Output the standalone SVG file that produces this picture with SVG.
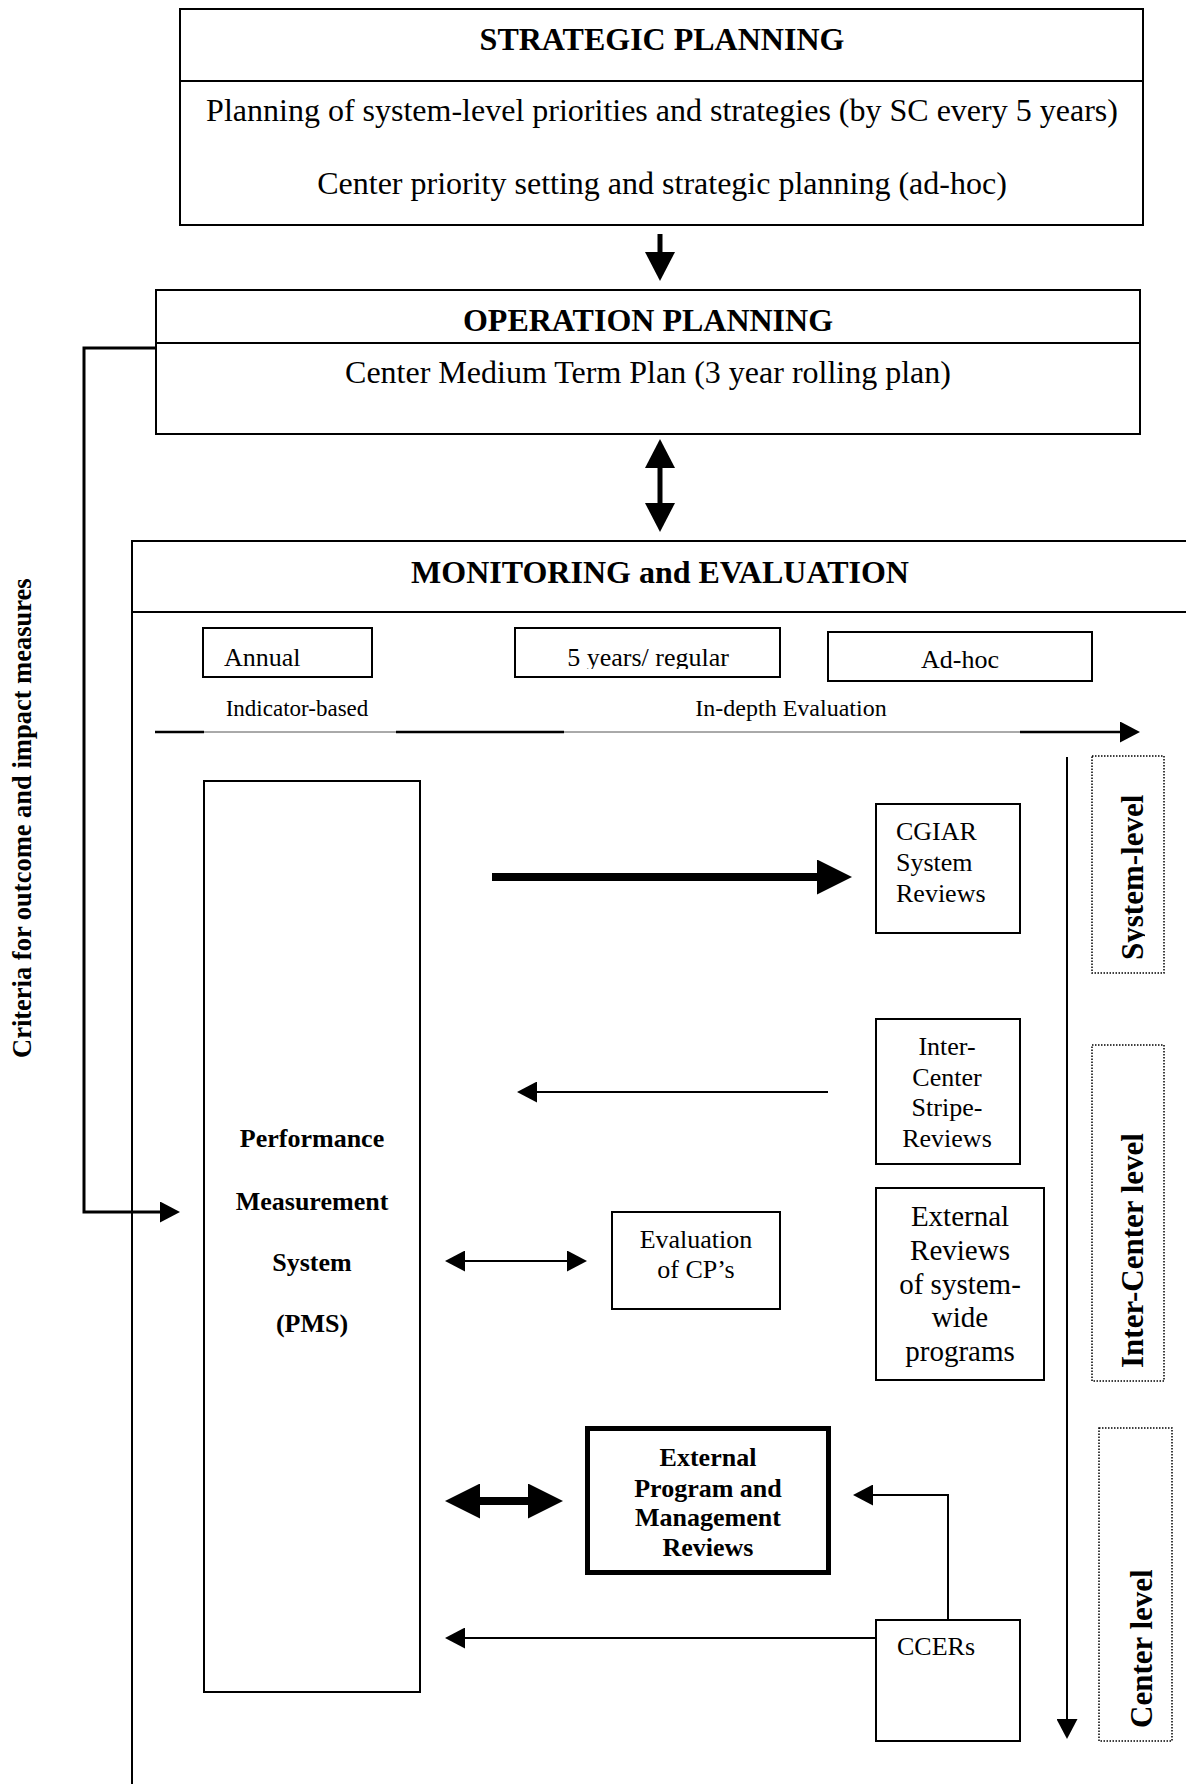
<svg xmlns="http://www.w3.org/2000/svg" width="1186" height="1784" viewBox="0 0 1186 1784">
<style>
  text { font-family: "Liberation Serif", "Times New Roman", serif; fill: #000; }
  .b { font-weight: bold; }
  .c { text-anchor: middle; }
  .box { fill: #fff; stroke: #000; stroke-width: 2; }
  .thick { fill: #fff; stroke: #000; stroke-width: 5; }
  .dot { fill: none; stroke: #000; stroke-width: 1.5; stroke-dasharray: 1.5 1.5; }
  .ln { fill: none; stroke: #000; stroke-width: 2; }
  .f32 { font-size: 32px; }
  .f26 { font-size: 26px; }
  .f29 { font-size: 29px; }
  .f31 { font-size: 31px; }
</style>
<defs>
  <marker id="thin" markerUnits="userSpaceOnUse" viewBox="0 0 20 21" markerWidth="20" markerHeight="21" refX="1" refY="10.5" orient="auto-start-reverse">
    <path d="M0,0 L20,10.5 L0,21 z" fill="#000"/>
  </marker>
  <marker id="mid" markerUnits="userSpaceOnUse" viewBox="0 0 29 30" markerWidth="29" markerHeight="30" refX="1" refY="15" orient="auto-start-reverse">
    <path d="M0,0 L29,15 L0,30 z" fill="#000"/>
  </marker>
  <marker id="big" markerUnits="userSpaceOnUse" viewBox="0 0 35 35" markerWidth="35" markerHeight="35" refX="1" refY="17.5" orient="auto-start-reverse">
    <path d="M0,0 L35,17.5 L0,35 z" fill="#000"/>
  </marker>
  <clipPath id="clip5y"><rect x="515" y="628" width="265" height="41"/></clipPath>
  <clipPath id="clipSys"><rect x="1092" y="756" width="53" height="217"/></clipPath>
</defs>

<rect width="1186" height="1784" fill="#fff"/>

<g id="strategic-planning">
  <rect class="box" x="180" y="9" width="963" height="216"/>
  <line class="ln" x1="180" y1="81" x2="1143" y2="81"/>
  <text class="b c f32" x="662" y="50">STRATEGIC PLANNING</text>
  <text class="c f32" x="662" y="121">Planning of system-level priorities and strategies (by SC every 5 years)</text>
  <text class="c f32" x="662" y="194">Center priority setting and strategic planning (ad-hoc)</text>
</g>

<g id="operation-planning">
  <rect class="box" x="156" y="290" width="984" height="144"/>
  <line class="ln" x1="156" y1="343" x2="1140" y2="343"/>
  <text class="b c f32" x="648" y="331">OPERATION PLANNING</text>
  <text class="c f32" x="648" y="383">Center Medium Term Plan (3 year rolling plan)</text>
</g>

<g id="monitoring-evaluation">
  <path class="ln" d="M1186,541 H132 V1784 M132,612 H1186"/>
  <text class="b c f32" x="660" y="583">MONITORING and EVALUATION</text>
</g>

<g id="annual">
  <rect class="box" x="203" y="628" width="169" height="49"/>
  <text class="f26" x="224" y="666">Annual</text>
</g>
<g id="five-years">
  <rect class="box" x="515" y="628" width="265" height="49"/>
  <text class="c f26" x="648" y="666" clip-path="url(#clip5y)">5 years/ regular</text>
</g>
<g id="ad-hoc">
  <rect class="box" x="828" y="632" width="264" height="49"/>
  <text class="c f26" x="960" y="668">Ad-hoc</text>
</g>
<g id="timeline-labels">
  <text class="c" style="font-size:23px" x="297" y="716">Indicator-based</text>
  <text class="c" style="font-size:24px" x="791" y="716">In-depth Evaluation</text>
</g>

<g id="pms">
  <rect class="box" x="204" y="781" width="216" height="911"/>
  <text class="b c f26" x="312" y="1147">Performance</text>
  <text class="b c f26" x="312" y="1210">Measurement</text>
  <text class="b c f26" x="312" y="1271">System</text>
  <text class="b c f26" x="312" y="1332">(PMS)</text>
</g>

<g id="cgiar">
  <rect class="box" x="876" y="804" width="144" height="129"/>
  <text class="f26" x="896" y="840">CGIAR</text>
  <text class="f26" x="896" y="871">System</text>
  <text class="f26" x="896" y="902">Reviews</text>
</g>

<g id="inter-center-stripe">
  <rect class="box" x="876" y="1019" width="144" height="145"/>
  <text class="c f26" x="947" y="1055">Inter-</text>
  <text class="c f26" x="947" y="1086">Center</text>
  <text class="c f26" x="947" y="1116">Stripe-</text>
  <text class="c f26" x="947" y="1147">Reviews</text>
</g>

<g id="external-reviews">
  <rect class="box" x="876" y="1188" width="168" height="192"/>
  <text class="c f29" x="960" y="1226">External</text>
  <text class="c f29" x="960" y="1260">Reviews</text>
  <text class="c f29" x="960" y="1294">of system-</text>
  <text class="c f29" x="960" y="1327">wide</text>
  <text class="c f29" x="960" y="1361">programs</text>
</g>

<g id="evaluation-cp">
  <rect class="box" x="612" y="1212" width="168" height="97"/>
  <text class="c f26" x="696" y="1248">Evaluation</text>
  <text class="c f26" x="696" y="1278">of CP’s</text>
</g>

<g id="epmr">
  <rect class="thick" x="587.5" y="1428.5" width="241" height="144"/>
  <text class="b c f26" x="708" y="1466">External</text>
  <text class="b c f26" x="708" y="1497">Program and</text>
  <text class="b c f26" x="708" y="1526">Management</text>
  <text class="b c f26" x="708" y="1556">Reviews</text>
</g>

<g id="ccers">
  <rect class="box" x="876" y="1620" width="144" height="121"/>
  <text class="f26" x="897" y="1655">CCERs</text>
</g>

<g id="system-level">
  <rect class="dot" x="1092" y="756" width="72" height="217"/>
  <g clip-path="url(#clipSys)">
    <text class="b f31" x="1143" y="960" transform="rotate(-90 1143 960)">System-level</text>
  </g>
</g>
<g id="inter-center-level">
  <rect class="dot" x="1092" y="1045" width="72" height="336"/>
  <text class="b f31" x="1143" y="1368" transform="rotate(-90 1143 1368)">Inter-Center level</text>
</g>
<g id="center-level">
  <rect class="dot" x="1099" y="1428" width="73" height="313"/>
  <text class="b f31" x="1152" y="1728" transform="rotate(-90 1152 1728)">Center level</text>
</g>

<g id="criteria-label">
  <text class="b" style="font-size:26.5px" x="31" y="1058" transform="rotate(-90 31 1058)">Criteria for outcome and impact measures</text>
</g>

<g id="connectors">
  <line x1="660" y1="234" x2="660" y2="253" stroke="#000" stroke-width="5" marker-end="url(#mid)"/>
  <line x1="660" y1="467" x2="660" y2="504" stroke="#000" stroke-width="5" marker-start="url(#mid)" marker-end="url(#mid)"/>
  <polyline points="156,348 84,348 84,1212 161,1212" fill="none" stroke="#000" stroke-width="3" marker-end="url(#thin)"/>
  <line x1="155" y1="732" x2="1120" y2="732" stroke="#555" stroke-width="1"/>
  <path d="M155,732 H204 M396,732 H564" stroke="#000" stroke-width="2.5" fill="none"/>
  <line x1="1020" y1="732" x2="1121" y2="732" stroke="#000" stroke-width="2.5" marker-end="url(#thin)"/>
  <line x1="1067" y1="757" x2="1067" y2="1720" class="ln" marker-end="url(#thin)"/>
  <line x1="492" y1="877" x2="818" y2="877" stroke="#000" stroke-width="8" marker-end="url(#big)"/>
  <line x1="828" y1="1092" x2="536" y2="1092" class="ln" marker-end="url(#thin)"/>
  <line x1="464" y1="1261" x2="568" y2="1261" class="ln" marker-start="url(#thin)" marker-end="url(#thin)"/>
  <line x1="479" y1="1501" x2="529" y2="1501" stroke="#000" stroke-width="8" marker-start="url(#big)" marker-end="url(#big)"/>
  <line x1="876" y1="1638" x2="464" y2="1638" class="ln" marker-end="url(#thin)"/>
  <polyline points="948,1620 948,1495 872,1495" class="ln" marker-end="url(#thin)"/>
</g>
</svg>
